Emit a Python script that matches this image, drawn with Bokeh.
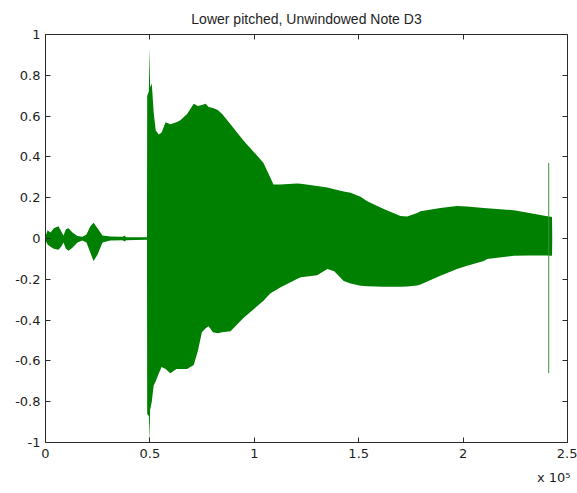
from bokeh.plotting import figure
from bokeh.models import (LinearAxis, FixedTicker, CustomJSTickFormatter, Range1d, Title)
from bokeh.embed import file_html
from bokeh.resources import INLINE

# ---- data: waveform envelope (sample index, upper, lower) ----
env_x = [0, 1000, 2400, 4000, 6200, 7500, 8600, 9800, 11000, 12900, 15300, 17700,
         19600, 21500, 23000, 24900, 27300, 31000, 37000, 37800, 38600, 48600,
         48700, 49500, 49800, 50100, 50900, 51800, 52800, 54300, 55600, 57500,
         59800, 62700, 64600, 67800, 71000, 73000, 74900, 76700, 78100, 80200,
         82500, 84600, 88600, 94800, 101000, 104400, 107600, 109200, 112400,
         120400, 122300, 130100, 135000, 138300, 142800, 146100, 150900, 154100,
         162000, 170000, 173200, 178000, 179600, 189100, 197100, 201900, 209900,
         211500, 224300, 231800, 239700, 242600, 242700]
env_upper = [0.01, 0.04, 0.03, 0.05, 0.06, 0.035, 0.015, 0.045, 0.05, 0.03, 0.012, 0.008,
             0.02, 0.06, 0.077, 0.05, 0.015, 0.01, 0.008, 0.015, 0.006, 0.006,
             0.70, 0.72, 0.94, 0.74, 0.76, 0.62, 0.53, 0.51, 0.52, 0.57,
             0.56, 0.57, 0.58, 0.61, 0.66, 0.65, 0.655, 0.66, 0.645, 0.64,
             0.63, 0.61, 0.56, 0.48, 0.41, 0.37, 0.30, 0.265, 0.265,
             0.27, 0.268, 0.257, 0.25, 0.242, 0.23, 0.224, 0.205, 0.183,
             0.144, 0.11, 0.108, 0.125, 0.134, 0.15, 0.159, 0.157, 0.15,
             0.148, 0.139, 0.125, 0.11, 0.105, 0.0]
env_lower = [-0.01, -0.03, -0.04, -0.05, -0.055, -0.04, -0.02, -0.05, -0.06, -0.045, -0.02, -0.01,
             -0.02, -0.07, -0.11, -0.08, -0.02, -0.01, -0.008, -0.015, -0.008, -0.006,
             -0.86, -0.87, -1.0, -0.84, -0.80, -0.72, -0.70, -0.66, -0.63, -0.64,
             -0.66, -0.64, -0.64, -0.64, -0.62, -0.55, -0.46, -0.44, -0.43, -0.46,
             -0.465, -0.46, -0.455, -0.39, -0.335, -0.305, -0.27, -0.26, -0.24,
             -0.198, -0.19, -0.18, -0.15, -0.16, -0.208, -0.22, -0.232, -0.234,
             -0.237, -0.237, -0.235, -0.23, -0.225, -0.183, -0.15, -0.134, -0.11,
             -0.10, -0.085, -0.083, -0.083, -0.085, 0.0]

# click at the end of the recording
click_x = [241000]
click_top = [0.37]
click_bottom = [-0.66]

x_ticks = [0, 50000, 100000, 150000, 200000, 250000]
y_ticks = [-1, -0.8, -0.6, -0.4, -0.2, 0, 0.2, 0.4, 0.6, 0.8, 1]
title_text = "Lower pitched, Unwindowed Note D3"
exponent_text = "x 10\u2075"

GREEN = "#008000"
AXC = "#2a2a2a"
TXC = "#1e1e1e"

p = figure(width=577, height=493, output_backend="svg", toolbar_location=None,
           x_range=Range1d(0, 250000), y_range=Range1d(-1, 1),
           x_axis_location=None, y_axis_location=None,
           min_border_left=45, min_border_right=10, min_border_top=33, min_border_bottom=51,
           title=title_text)
p.title.align = "center"
p.title.text_font = "Liberation Sans"
p.title.text_font_size = "14px"
p.title.text_font_style = "normal"
p.title.text_color = TXC
p.title.standoff = 16
p.grid.visible = False
p.outline_line_color = None
p.background_fill_color = "white"
p.border_fill_color = "white"

p.varea(x=env_x, y1=env_lower, y2=env_upper, fill_color=GREEN)
p.segment(x0=click_x, y0=click_bottom, x1=click_x, y1=click_top,
          line_color="#3a953a", line_width=1)

xfmt = CustomJSTickFormatter(code="return String(tick/100000);")
yfmt = CustomJSTickFormatter(code="return String(tick);")

def style(ax, labels=True):
    ax.axis_line_color = AXC
    ax.axis_line_width = 1
    ax.major_tick_line_color = AXC
    ax.major_tick_in = 5
    ax.major_tick_out = 0
    ax.minor_tick_line_color = None
    ax.major_label_text_font = "DejaVu Sans"
    ax.major_label_text_font_size = "13px"
    ax.major_label_standoff = 6
    ax.major_label_text_color = TXC if labels else None

bottom = LinearAxis(ticker=FixedTicker(ticks=x_ticks, minor_ticks=[]), formatter=xfmt)
style(bottom)
p.add_layout(bottom, "below")
top = LinearAxis(ticker=FixedTicker(ticks=x_ticks, minor_ticks=[]), formatter=xfmt)
style(top, labels=False)
p.add_layout(top, "above")
left = LinearAxis(ticker=FixedTicker(ticks=y_ticks, minor_ticks=[]), formatter=yfmt)
style(left)
left.major_label_standoff = 5
p.add_layout(left, "left")
right = LinearAxis(ticker=FixedTicker(ticks=y_ticks, minor_ticks=[]), formatter=yfmt)
style(right, labels=False)
p.add_layout(right, "right")

exp_title = Title(text=exponent_text, align="right", offset=-3, standoff=14,
                  text_font="DejaVu Sans", text_font_size="13px",
                  text_font_style="normal", text_color=TXC)
p.add_layout(exp_title, "below")

open("out.html", "w").write(file_html(p, INLINE))
